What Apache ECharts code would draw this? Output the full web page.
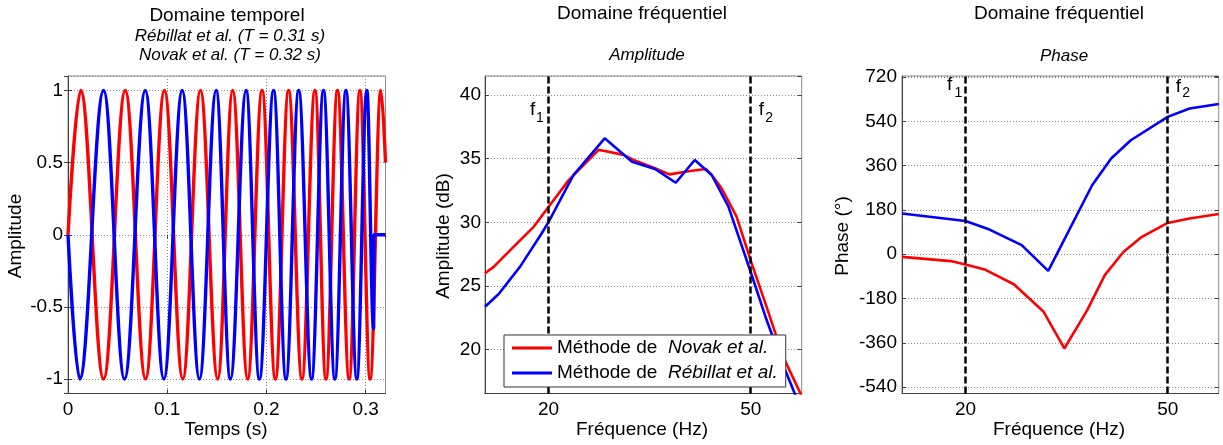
<!DOCTYPE html>
<html><head><meta charset="utf-8">
<script src="https://cdn.jsdelivr.net/npm/echarts@6/dist/echarts.min.js"></script>
<style>html,body{margin:0;padding:0;background:#fff}#c{width:1223px;height:445px}</style>
</head><body><div id="c"></div>
<script>
// ---------- DATA ----------
// Time domain: times of extrema (s) and the values there
const novakTime = [0, 0.0128, 0.0359, 0.0577, 0.0782, 0.0972, 0.1157, 0.1335, 0.1509, 0.1660, 0.1811, 0.1956, 0.2090, 0.2223, 0.2358, 0.2489, 0.2600, 0.2716, 0.2834, 0.2942, 0.3045, 0.3153, 0.3200];
const novakSignal = [0, 1, -1, 1, -1, 1, -1, 1, -1, 1, -1, 1, -1, 1, -1, 1, -1, 1, -1, 1, -1, 1, 0.5];
const rebillatTime = [0, 0.0118, 0.0359, 0.0570, 0.0779, 0.0966, 0.1151, 0.1325, 0.1493, 0.1637, 0.1795, 0.1929, 0.2072, 0.2197, 0.2325, 0.2455, 0.2575, 0.2690, 0.2801, 0.2911, 0.3012, 0.3080, 0.3085, 0.3200];
const rebillatSignal = [0, -1, 1, -1, 1, -1, 1, -1, 1, -1, 1, -1, 1, -1, 1, -1, 1, -1, 1, -1, 1, -0.65, 0, 0];

// Frequency domain – amplitude (dB)
const ampFreqNovak = [15, 15.6, 16.8, 18.7, 20, 21.9, 25.1, 28.1, 29.4, 32.4, 34.6, 38.0, 40.8, 41.9, 43.8, 46.9, 50.2, 53.7, 57.9, 63];
const ampNovak = [26.0, 26.5, 27.8, 29.65, 31.2, 33.3, 35.7, 35.3, 34.9, 34.25, 33.77, 34.03, 34.19, 33.72, 32.7, 30.45, 26.8, 23.4, 19.45, 16.35];
const ampFreqRebillat = [15, 15.96, 17.6, 19.4, 20, 22.4, 25.8, 29.2, 32.4, 35.6, 38.8, 41.9, 45.2, 50, 53.7, 57.5, 63];
const ampRebillat = [23.37, 24.37, 26.54, 29.14, 30.02, 33.72, 36.6, 34.76, 34.2, 33.11, 34.9, 33.72, 31.23, 26.1, 22.36, 19.1, 15.2];

// Frequency domain – phase (degrees)
const phaseFreqNovak = [15, 18.7, 20, 21.8, 24.9, 28.5, 31.3, 34.7, 37.6, 40.9, 44.3, 50, 55.2, 63];
const phaseNovak = [-11, -28, -42, -62, -122, -234, -383, -228, -85, 9, 68, 127, 145, 163];
const phaseFreqRebillat = [15, 20, 22.3, 25.8, 29.1, 35.5, 38.7, 42.3, 50, 55.2, 63];
const phaseRebillat = [165, 135, 100, 37, -68, 280, 389, 463, 558, 592, 610];

// Ticks and band limits
const freqTicks = [20, 50];
const bandLimits = [20, 50];   // f1, f2
const seriesNames = ['Novak et al.', 'Rébillat et al.'];

// ---------- CHART ----------
const FONT = '"Liberation Sans", Arial, sans-serif';
const RED = '#ff0000', BLUE = '#0000ff';
const zip = (xs, ys) => xs.map((x, i) => [x, ys[i]]);

const tickStyle = {show: true, inside: true, length: 4, lineStyle: {color: '#404040', width: 1}};
const gridLine = {show: true, lineStyle: {color: '#8a8a8a', type: [1, 2], width: 1}};
const labelStyle = {color: '#000', fontSize: 19, fontFamily: FONT};

function mainAxis(gridIndex, position, o) {
  return Object.assign({
    gridIndex, position,
    axisLine: {show: true, onZero: false, lineStyle: {color: '#404040', width: 1}},
    axisTick: Object.assign({}, tickStyle, o.tickCustom ? {customValues: o.tickCustom} : {}),
    axisLabel: Object.assign({}, labelStyle, {margin: o.margin || 6}, o.label || {}),
    splitLine: o.split === false ? {show: false} : gridLine,
    minorTick: {show: false}
  }, o.base);
}
function mirrorAxis(gridIndex, position, o) {
  return Object.assign({
    gridIndex, position,
    axisLine: {show: false},
    axisTick: Object.assign({}, tickStyle, o.tickCustom ? {customValues: o.tickCustom} : {}),
    axisLabel: {show: false},
    splitLine: {show: false},
    minorTick: {show: false}
  }, o.base);
}

const xTime = {type: 'value', min: 0, max: 0.32, minInterval: 0.1, maxInterval: 0.1};
const xFreq = {type: 'log', logBase: 10, min: 15, max: 63};
const yAmpT = {type: 'value', min: -1.1, max: 1.1, minInterval: 0.5, maxInterval: 0.5};
const yAmpF = {type: 'value', min: 16.55, max: 41.5, minInterval: 5, maxInterval: 5};
const yPh = {type: 'value', min: -566, max: 724, minInterval: 180, maxInterval: 180};

const chart = echarts.init(document.getElementById('c'), null, {renderer: 'canvas'});

const grids = [
  {left: 68, top: 76, width: 317.5, height: 317.5},
  {left: 485, top: 76, width: 316.7, height: 317.5},
  {left: 902, top: 76, width: 316.7, height: 317.5}
].map(g => Object.assign(g, {show: true, borderColor: '#8a8a8a', borderWidth: 1, backgroundColor: '#fff'}));

const xAxes = [
  mainAxis(0, 'bottom', {base: xTime, margin: 7, label: {showMaxLabel: false}}),
  mirrorAxis(0, 'top', {base: xTime}),
  mainAxis(1, 'bottom', {base: xFreq, margin: 7, split: false, tickCustom: freqTicks, label: {customValues: freqTicks}}),
  mirrorAxis(1, 'top', {base: xFreq, tickCustom: freqTicks}),
  mainAxis(2, 'bottom', {base: xFreq, margin: 7, split: false, tickCustom: freqTicks, label: {customValues: freqTicks}}),
  mirrorAxis(2, 'top', {base: xFreq, tickCustom: freqTicks})
];
const yAxes = [
  mainAxis(0, 'left', {base: yAmpT, margin: 5, label: {showMinLabel: false, showMaxLabel: false}}),
  mirrorAxis(0, 'right', {base: yAmpT}),
  mainAxis(1, 'left', {base: yAmpF, margin: 4, label: {showMinLabel: false, showMaxLabel: false}}),
  mirrorAxis(1, 'right', {base: yAmpF}),
  mainAxis(2, 'left', {base: yPh, margin: 5, label: {showMinLabel: false, showMaxLabel: false}}),
  mirrorAxis(2, 'right', {base: yPh})
];

const bandMarkLine = {
  silent: true, symbol: ['none', 'none'], label: {show: false}, animation: false,
  lineStyle: {color: '#000', type: [7, 3], width: 2.5},
  data: bandLimits.map(v => ({xAxis: v}))
};

const series = [
  {name: seriesNames[0], type: 'line', xAxisIndex: 0, yAxisIndex: 0, data: zip(novakTime, novakSignal),
   smooth: 0.38, smoothMonotone: 'x', showSymbol: false, lineStyle: {color: RED, width: 3.4}, itemStyle: {color: RED}},
  {name: seriesNames[1], type: 'line', xAxisIndex: 0, yAxisIndex: 0, data: zip(rebillatTime, rebillatSignal),
   smooth: 0.38, smoothMonotone: 'x', showSymbol: false, lineStyle: {color: BLUE, width: 3.4}, itemStyle: {color: BLUE}},
  {name: seriesNames[0], type: 'line', xAxisIndex: 2, yAxisIndex: 2, data: zip(ampFreqNovak, ampNovak),
   showSymbol: false, lineStyle: {color: RED, width: 2.6}, itemStyle: {color: RED}},
  {name: seriesNames[1], type: 'line', xAxisIndex: 2, yAxisIndex: 2, data: zip(ampFreqRebillat, ampRebillat),
   showSymbol: false, lineStyle: {color: BLUE, width: 2.6}, itemStyle: {color: BLUE}, markLine: bandMarkLine},
  {name: seriesNames[0], type: 'line', xAxisIndex: 4, yAxisIndex: 4, data: zip(phaseFreqNovak, phaseNovak),
   showSymbol: false, lineStyle: {color: RED, width: 2.6}, itemStyle: {color: RED}},
  {name: seriesNames[1], type: 'line', xAxisIndex: 4, yAxisIndex: 4, data: zip(phaseFreqRebillat, phaseRebillat),
   showSymbol: false, lineStyle: {color: BLUE, width: 2.6}, itemStyle: {color: BLUE}, markLine: bandMarkLine}
];

chart.setOption({
  animation: false,
  backgroundColor: '#fff',
  grid: grids,
  xAxis: xAxes,
  yAxis: yAxes,
  legend: {
    orient: 'vertical', left: 504, top: 335, z: 50,
    data: seriesNames,
    icon: 'rect', itemWidth: 40, itemHeight: 3, itemGap: 5,
    padding: [3, 8, 4, 8],
    backgroundColor: '#fff', borderColor: '#333', borderWidth: 1, borderRadius: 0,
    selectedMode: false,
    formatter: n => 'Méthode de  {i|' + n + '}',
    textStyle: {fontFamily: FONT, fontSize: 19, color: '#000', lineHeight: 20,
      rich: {i: {fontStyle: 'italic', fontFamily: FONT, fontSize: 19, color: '#000', lineHeight: 20}}}
  },
  series
});

// ---------- TEXT ----------
function txt(x, y, text, size, opts) {
  opts = opts || {};
  return {
    type: 'text', x, y, rotation: opts.rot || 0, silent: true, z: 100,
    style: {text, fill: '#000', fontFamily: FONT, fontSize: size,
      fontStyle: opts.italic ? 'italic' : 'normal',
      align: opts.align || 'center', verticalAlign: 'middle'}
  };
}
const px = (xi, v) => chart.convertToPixel({xAxisIndex: xi}, v);
const m20 = px(2, bandLimits[0]), m50 = px(2, bandLimits[1]);
const p20 = px(4, bandLimits[0]), p50 = px(4, bandLimits[1]);

chart.setOption({graphic: [
  txt(227, 16, 'Domaine temporel', 19),
  txt(230, 36, 'Rébillat et al. (T = 0.31 s)', 17, {italic: true}),
  txt(230, 55, 'Novak et al. (T = 0.32 s)', 17, {italic: true}),
  txt(642, 14, 'Domaine fréquentiel', 19),
  txt(1059, 14, 'Domaine fréquentiel', 19),
  txt(647, 55, 'Amplitude', 17, {italic: true}),
  txt(1064, 56, 'Phase', 17, {italic: true}),
  txt(16, 236, 'Amplitude', 19, {rot: Math.PI / 2}),
  txt(444, 236, 'Amplitude (dB)', 19, {rot: Math.PI / 2}),
  txt(843, 236, 'Phase (°)', 19, {rot: Math.PI / 2}),
  txt(226, 430, 'Temps (s)', 19),
  txt(642, 430, 'Fréquence (Hz)', 19),
  txt(1059, 430, 'Fréquence (Hz)', 19),
  // f1 / f2 labels
  txt(m20 - 18.5, 110, 'f', 19, {align: 'left'}),
  txt(m20 - 12.5, 118.5, '1', 14, {align: 'left'}),
  txt(m50 + 8, 110, 'f', 19, {align: 'left'}),
  txt(m50 + 14.5, 118.5, '2', 14, {align: 'left'}),
  txt(p20 - 18.5, 85, 'f', 19, {align: 'left'}),
  txt(p20 - 11, 93.4, '1', 14, {align: 'left'}),
  txt(p50 + 8, 86.5, 'f', 19, {align: 'left'}),
  txt(p50 + 14.5, 93.4, '2', 14, {align: 'left'})
]});
</script>
</body></html>
